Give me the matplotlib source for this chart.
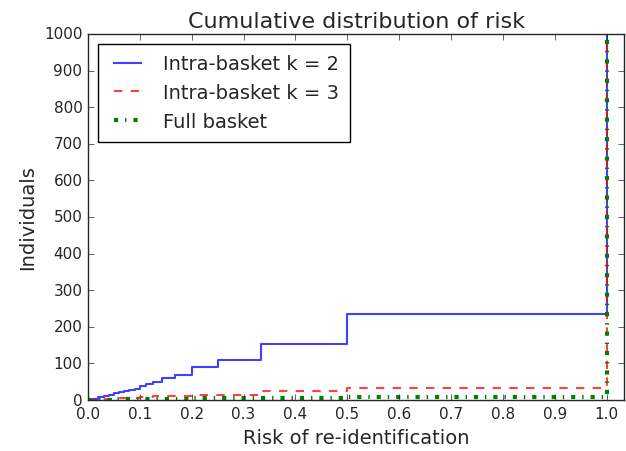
import matplotlib
matplotlib.use("Agg")
import matplotlib.pyplot as plt

plt.style.use("classic")
plt.rcParams["figure.facecolor"] = "white"
plt.rcParams["savefig.facecolor"] = "white"
plt.rcParams["font.family"] = ["DejaVu Sans"]

# risk values (step positions) and cumulative number of individuals
risk_k2 = [0.0, 0.01, 0.02, 0.03, 0.04, 0.05, 0.06, 0.07, 0.08, 0.09, 0.1,
           0.111, 0.125, 0.143, 0.167, 0.2, 0.25, 0.333, 0.5, 1.0]
cum_k2 = [0, 3, 7, 11, 15, 18, 21, 25, 28, 31, 38,
          44, 50, 60, 67, 89, 109, 153, 235, 1000]

risk_k3 = [0.0, 0.02, 0.05, 0.1, 0.125, 0.143, 0.167, 0.2, 0.25, 0.333, 0.5, 1.0]
cum_k3 = [0, 2, 5, 9, 10, 11, 12, 13, 14, 24, 33, 1000]

risk_full = [0.0, 0.05, 0.1, 0.2, 0.333, 0.5, 1.0]
cum_full = [0, 2, 4, 5, 6, 8, 1000]

labels = ["Intra-basket k = 2", "Intra-basket k = 3", "Full basket"]

fig = plt.figure(figsize=(6.26, 4.52), dpi=100)
ax = fig.add_axes([0.1406, 0.1128, 0.8565, 0.8098])

ax.step(risk_k2, cum_k2, where="post", color="blue", lw=1.5, alpha=0.75, label=labels[0])
ax.step(risk_k3, cum_k3, where="post", color="red", lw=1.5, ls="--", alpha=0.75, label=labels[1])
ax.step(risk_full, cum_full, where="post", color="green", lw=3, ls="-.", label=labels[2])

ax.set_xlim(0, 1.034)
ax.set_ylim(0, 1000)
ax.set_xticks([0.0, 0.1, 0.2, 0.3, 0.4, 0.5, 0.6, 0.7, 0.8, 0.9, 1.0])
ax.set_yticks(range(0, 1001, 100))
ax.tick_params(labelsize=11, colors="#262626")
for s in ax.spines.values():
    s.set_color("#262626")
ax.set_xlabel("Risk of re-identification", fontsize=14, color="#262626")
ax.set_ylabel("Individuals", fontsize=14, color="#262626")
ax.set_title("Cumulative distribution of risk", fontsize=16, color="#262626")
leg = ax.legend(loc="upper left", fontsize=14, handlelength=2.0,
                borderpad=0.55, labelspacing=0.5)
for t in leg.get_texts():
    t.set_color("#262626")

fig.savefig("out.png", dpi=100)
